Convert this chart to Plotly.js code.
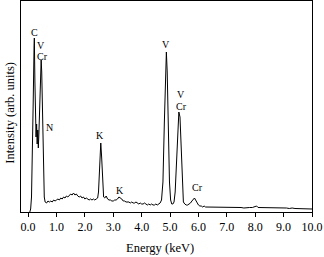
<!DOCTYPE html>
<html><head><meta charset="utf-8">
<script src="https://cdn.plot.ly/plotly-3.0.1.min.js"></script>
<style>html,body{margin:0;padding:0;background:#fff}#c{width:324px;height:257px}</style>
</head><body><div id="c"></div>
<script>
const energy = [0.06,0.09,0.12,0.15,0.18,0.21,0.22,0.24,0.26,0.28,0.30,0.32,0.34,0.36,0.38,0.40,0.43,0.46,0.48,0.51,0.54,0.57,0.60,0.65,0.70,
0.75,0.80,0.85,0.90,0.95,1.00,1.05,1.10,1.15,1.20,1.25,1.30,1.35,1.40,1.45,1.50,1.55,1.60,1.65,1.70,1.75,1.80,1.85,1.90,1.95,2.00,2.05,2.10,2.15,2.20,2.25,2.30,2.35,2.40,2.45,
2.48,2.51,2.54,2.56,2.59,2.62,2.66,2.70,2.75,2.80,2.85,2.90,2.95,3.00,3.05,3.10,3.15,3.20,3.25,3.30,3.35,3.40,3.45,3.50,3.55,3.60,3.65,3.70,3.75,3.80,3.85,3.90,3.95,4.00,
4.05,4.10,4.15,4.20,4.25,4.30,4.35,4.40,4.45,4.50,4.55,4.60,4.65,4.70,4.75,4.80,4.84,4.87,4.90,4.94,4.98,5.02,5.06,5.10,5.14,5.18,5.22,5.27,5.31,5.35,5.39,5.43,5.47,5.52,
5.57,5.62,5.67,5.72,5.77,5.82,5.86,5.90,5.95,6.00,6.05,6.10,6.15,6.20,6.25,6.30,6.35,6.40,6.50,6.60,6.70,6.80,6.90,7.00,7.10,7.20,7.30,7.40,7.50,7.60,7.70,7.80,7.90,8.00,
8.05,8.10,8.20,8.30,8.40,8.50,8.60,8.70,8.80,8.90,9.00,9.10,9.20,9.30,9.40,9.50,9.60,9.70,9.80,9.90,10.0];
const intensity = [0,3,15,50,110,165,174,130,85,75,88,68,82,64,78,95,135,152,140,90,40,15,10,9,11,
10,11,10,12,11,12,13,12,14,13,15,14,16,15,17,18,17,19,17,18,16,15,16,14,15,13,14,13,12,13,12,13,12,13,14,
20,40,65,69,55,30,15,14,16,13,12,12,11,11,12,12,13,15,14,13,11,11,10,10,10,9,10,9,9,10,9,8,9,8,
8,9,8,7,8,7,8,7,7,8,7,8,9,12,30,90,150,160,140,80,30,12,8,8,10,20,45,85,100,95,60,25,10,8,
7,7,8,9,11,13,14,12,9,7,6,6,5,6,5,5,5,5,4.5,5,4.5,5,4.5,4.5,5,4.5,4.5,4.5,4.5,4,4.5,4.5,4.5,5,
6,4.5,4.5,4,4.5,4,4,4.5,4,4,4,4,3.5,4,3.5,3.5,3.5,3.5,3,3.5,3];
const peakLabels = ["C","V","Cr","N","K","K","V","V","Cr","Cr"];
const peakX = [0.22,0.45,0.51,0.77,2.55,3.25,4.87,5.37,5.39,5.97];
const peakY = [180,167,156,85,77,22,168,118,106,25];
const xTicks = [0,1,2,3,4,5,6,7,8,9,10];

const serif = "Liberation Serif, Times New Roman, serif";
const annotations = peakLabels.map((t,i)=>({x:peakX[i],y:peakY[i],text:t,showarrow:false,
  font:{family:serif,size:10,color:"#000"},xanchor:"center",yanchor:"middle"}));
annotations.push({xref:"paper",yref:"paper",x:-0.038,y:0.47,text:"Intensity (arb. units)",textangle:-90,
  showarrow:false,font:{family:serif,size:12.5,color:"#000"},xanchor:"center",yanchor:"middle"});
annotations.push({xref:"paper",yref:"paper",x:0.476,y:-0.17,text:"Energy (keV)",
  showarrow:false,font:{family:serif,size:12.5,color:"#000"},xanchor:"center",yanchor:"middle"});

Plotly.newPlot("c",[{x:energy,y:intensity,type:"scatter",mode:"lines",
  line:{color:"#000",width:1},hoverinfo:"skip"}],
  {width:324,height:257,margin:{l:21,r:12,t:1,b:45},paper_bgcolor:"#fff",plot_bgcolor:"#fff",
   showlegend:false,
   xaxis:{range:[-0.25,10.0],tickvals:xTicks,tickformat:".1f",ticks:"outside",ticklen:4,tickcolor:"#000",
     showline:true,linecolor:"#000",linewidth:1,mirror:true,showgrid:false,zeroline:false,
     tickfont:{family:serif,size:12,color:"#000"}},
   yaxis:{range:[0,211],showticklabels:false,ticks:"",showline:true,linecolor:"#000",linewidth:1,
     mirror:true,showgrid:false,zeroline:false},
   annotations:annotations},{displayModeBar:false,staticPlot:true});
</script></body></html>
